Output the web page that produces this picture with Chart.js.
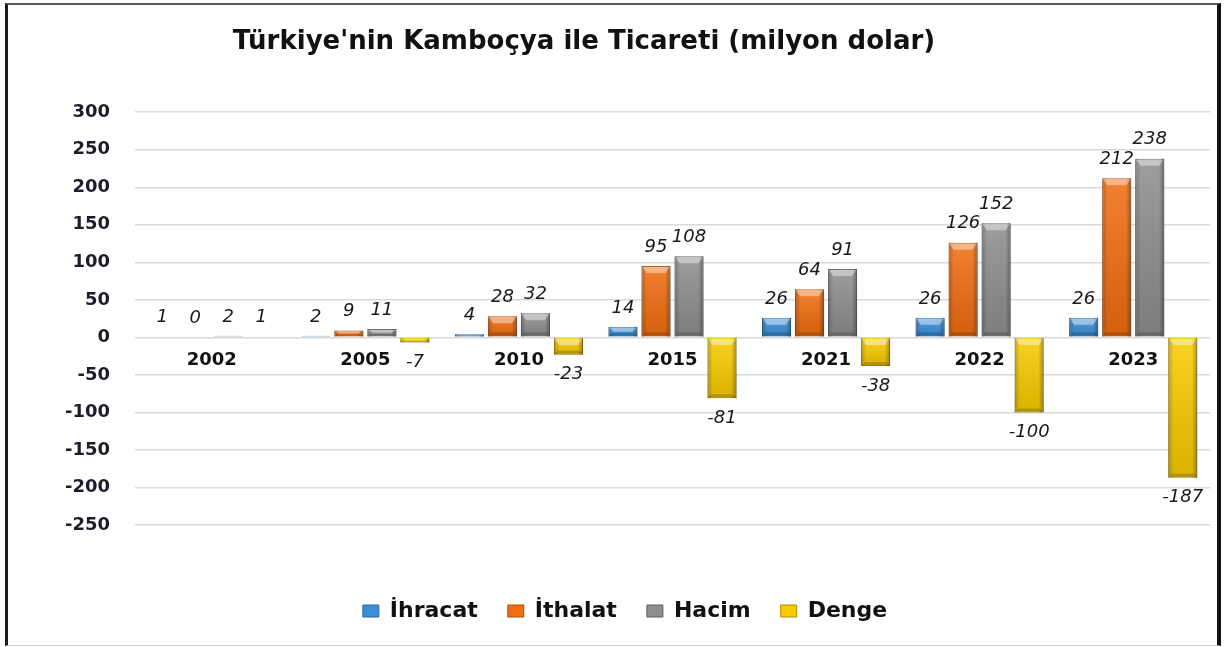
<!DOCTYPE html>
<html lang="tr">
<head>
<meta charset="UTF-8">
<title>Türkiye'nin Kamboçya ile Ticareti</title>
<script src="https://cdn.jsdelivr.net/npm/chart.js@4.4.1/dist/chart.umd.min.js"></script>
<style>
  body { margin: 0; background: #fff; }
  #wrap { position: relative; width: 1225px; height: 647px; }
  #frame {
    position: absolute; left: 5px; top: 3px; width: 1209px; height: 640px;
    border-left: 3px solid #1b1b1b; border-top: 2px solid #5a5a5a;
    border-right: 4px solid #111; border-bottom: 1px solid #cfcfcf;
    pointer-events: none;
  }
</style>
</head>
<body>
<div id="wrap">
  <canvas id="chart"></canvas>
  <div id="frame"></div>
</div>
<script>
// values in million USD
const years   = ['2002', '2005', '2010', '2015', '2021', '2022', '2023'];
const ihracat = [1, 2, 4, 14, 26, 26, 26];
const ithalat = [0, 9, 28, 95, 64, 126, 212];
const hacim   = [2, 11, 32, 108, 91, 152, 238];
const denge   = [1, -7, -23, -81, -38, -100, -187];
const yTicks  = [-250, -200, -150, -100, -50, 0, 50, 100, 150, 200, 250, 300];

const font = 'DejaVu Sans';

// bevel shading + value labels on each bar
const barDecor = {
  id: 'barDecor',
  afterDatasetsDraw(chart) {
    const ctx = chart.ctx;
    chart.data.datasets.forEach((ds, i) => {
      const meta = chart.getDatasetMeta(i);
      meta.data.forEach((bar, j) => {
        const left = bar.x - bar.width / 2;
        const top = Math.min(bar.y, bar.base);
        const h = Math.abs(bar.base - bar.y);
        const w = bar.width;
        ctx.save();
        if (h > 2) {
          // top light, bottom darker
          const gv = ctx.createLinearGradient(0, top, 0, top + h);
          gv.addColorStop(0, 'rgba(255,255,255,0.14)');
          gv.addColorStop(1, 'rgba(0,0,0,0.12)');
          ctx.fillStyle = gv;
          ctx.fillRect(left, top, w, h);
          // darker side edges
          const g = ctx.createLinearGradient(left, 0, left + w, 0);
          g.addColorStop(0, 'rgba(0,0,0,0.22)');
          g.addColorStop(0.18, 'rgba(0,0,0,0)');
          g.addColorStop(0.82, 'rgba(0,0,0,0)');
          g.addColorStop(1, 'rgba(0,0,0,0.32)');
          ctx.fillStyle = g;
          ctx.fillRect(left, top, w, h);
          // bevel highlight on top
          const hl = Math.min(7, h / 2);
          ctx.fillStyle = 'rgba(255,255,255,0.42)';
          ctx.beginPath();
          ctx.moveTo(left + 1, top + 1);
          ctx.lineTo(left + w - 1, top + 1);
          ctx.lineTo(left + w - 5, top + hl);
          ctx.lineTo(left + 5, top + hl);
          ctx.closePath();
          ctx.fill();
          // bevel shade on bottom
          const bl = Math.min(4, h / 3);
          ctx.fillStyle = 'rgba(0,0,0,0.18)';
          ctx.beginPath();
          ctx.moveTo(left + 1, top + h - 1);
          ctx.lineTo(left + w - 1, top + h - 1);
          ctx.lineTo(left + w - 4, top + h - bl);
          ctx.lineTo(left + 4, top + h - bl);
          ctx.closePath();
          ctx.fill();
        }
        const v = ds.data[j];
        ctx.fillStyle = '#1a1a1a';
        ctx.font = 'italic 18px "' + font + '"';
        ctx.textAlign = 'center';
        ctx.textBaseline = 'middle';
        if (v < 0) ctx.fillText(v, bar.x, bar.y + 20);
        else ctx.fillText(v, bar.x, bar.y - 19);
        ctx.restore();
      });
    });
  }
};

// in the original the title sits a bit left and the legend a bit right of centre
const blockShift = {
  id: 'blockShift',
  afterLayout(chart) {
    const t = chart.titleBlock;
    if (t) t.right = t.left + 1168;
    const l = chart.legend;
    if (l) l.right = l.left + 1250;
  }
};

const ctx = document.getElementById('chart').getContext('2d');
new Chart(ctx, {
  type: 'bar',
  data: {
    labels: years,
    datasets: [
      { label: 'İhracat', data: ihracat, backgroundColor: '#3b8fd8', borderColor: '#2a6aa3', borderWidth: 1 },
      { label: 'İthalat', data: ithalat, backgroundColor: '#f06d10', borderColor: '#b04f08', borderWidth: 1 },
      { label: 'Hacim',   data: hacim,   backgroundColor: '#8e8e8e', borderColor: '#5e5e5e', borderWidth: 1 },
      { label: 'Denge',   data: denge,   backgroundColor: '#f8cb00', borderColor: '#b38f00', borderWidth: 1 }
    ]
  },
  options: {
    responsive: true,
    maintainAspectRatio: false,
    animation: false,
    datasets: { bar: { barPercentage: 0.88, categoryPercentage: 0.86 } },
    layout: { padding: { left: 0, right: 15, top: 0, bottom: 15 } },
    plugins: {
      title: {
        display: true,
        text: "Türkiye'nin Kamboçya ile Ticareti (milyon dolar)",
        color: '#111',
        font: { family: font, size: 26, weight: 'bold' },
        padding: { top: 27, bottom: 54 }
      },
      legend: {
        position: 'bottom',
        labels: {
          boxWidth: 16, boxHeight: 12, padding: 30, color: '#111',
          font: { family: font, size: 22, weight: 'bold' }
        }
      },
      tooltip: { enabled: false }
    },
    scales: {
      x: {
        position: { y: 0 },
        grid: { display: false },
        border: { display: false },
        ticks: { padding: 4, color: '#111', font: { family: font, size: 18, weight: 'bold' } }
      },
      y: {
        min: -250, max: 300,
        afterBuildTicks(s) { s.ticks = yTicks.map(v => ({ value: v })); },
        afterFit(s) { s.width = 135; },
        grid: { color: '#d9d9d9', lineWidth: 1.5, drawTicks: false },
        border: { display: false },
        ticks: { padding: 25, color: '#1c1c2a', font: { family: font, size: 18, weight: 'bold' } }
      },
      gap: {
        type: 'linear', position: 'bottom', min: 0, max: 1,
        grid: { display: false }, border: { display: false },
        ticks: { display: false },
        afterFit(s) { s.height = 45; }
      }
    }
  },
  plugins: [barDecor, blockShift]
});
</script>
</body>
</html>
